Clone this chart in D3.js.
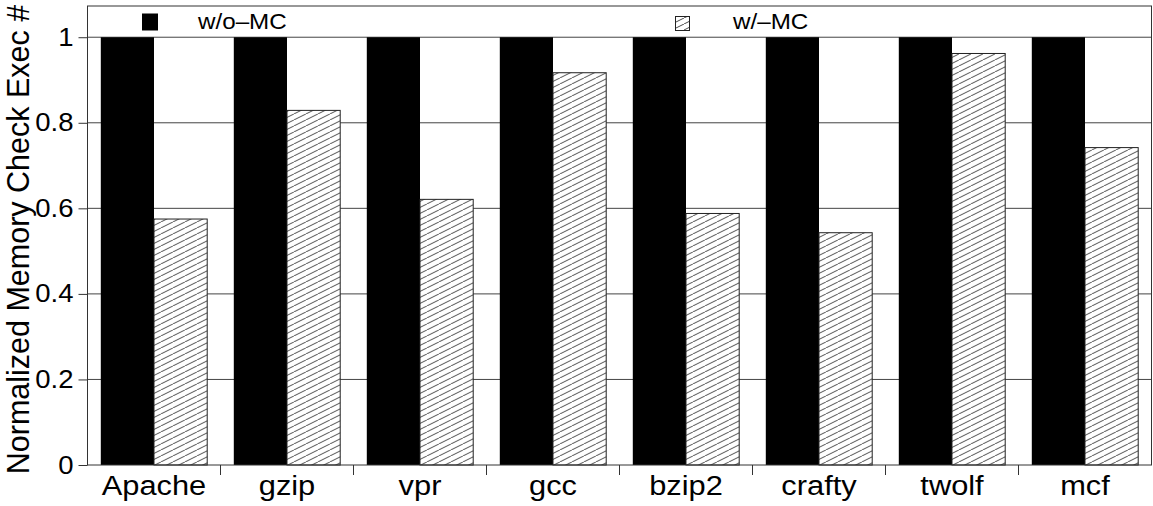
<!DOCTYPE html>
<html>
<head>
<meta charset="utf-8">
<script src="https://cdn.jsdelivr.net/npm/d3@7"></script>
<style>
  body { margin: 0; background: #fff; }
  text { font-family: "Liberation Sans", Arial, sans-serif; fill: #000; }
</style>
</head>
<body>
<div class="chart"></div>
<script>
// benchmarks on the x axis
var benchmarks = ["Apache", "gzip", "vpr", "gcc", "bzip2", "crafty", "twolf", "mcf"];
// series
var seriesNames = ["w/o\u2013MC", "w/\u2013MC"];
var withoutMC = [1, 1, 1, 1, 1, 1, 1, 1];
var withMC = [0.575, 0.829, 0.621, 0.917, 0.588, 0.543, 0.962, 0.742];
var yTicks = [0, 0.2, 0.4, 0.6, 0.8, 1];

var svgWidth = 1153, svgHeight = 506;
var margin = { top: 6, right: 1.5, bottom: 41, left: 87.5 };
var chartWidth = svgWidth - margin.left - margin.right;
var chartHeight = svgHeight - margin.top - margin.bottom;
var stretch = 1.1; // text in the original is a little wide

var svg = d3.select(".chart").append("svg")
  .attr("width", svgWidth)
  .attr("height", svgHeight);

// hatch for the w/-MC bars
var defs = svg.append("defs");
var pat = defs.append("pattern")
  .attr("id", "hatch")
  .attr("patternUnits", "userSpaceOnUse")
  .attr("width", 12)
  .attr("height", 6);
pat.append("rect").attr("width", 12).attr("height", 6).attr("fill", "#fff");
pat.append("line")
  .attr("x1", -1).attr("y1", 6.5).attr("x2", 13).attr("y2", -0.5)
  .attr("stroke", "#333").attr("stroke-width", 0.9);

var chartGroup = svg.append("g")
  .attr("transform", `translate(${margin.left}, ${margin.top})`);

var x0 = d3.scaleBand()
  .domain(benchmarks)
  .range([0, chartWidth])
  .paddingInner(0.2)
  .paddingOuter(0.1);

var x1 = d3.scaleBand()
  .domain([0, 1])
  .range([0, x0.bandwidth()]);

var yScale = d3.scaleLinear()
  .domain([0, 1.073])
  .range([chartHeight, 0]);

// grid lines
chartGroup.append("g")
  .selectAll("line")
  .data(yTicks.slice(1))
  .enter()
  .append("line")
  .attr("x1", 0).attr("x2", chartWidth)
  .attr("y1", d => yScale(d)).attr("y2", d => yScale(d))
  .attr("stroke", "#444").attr("stroke-width", 1);

// bars
var groups = chartGroup.selectAll(".grp")
  .data(benchmarks)
  .enter()
  .append("g")
  .attr("transform", d => `translate(${x0(d)},0)`);

groups.append("rect")
  .attr("x", x1(0))
  .attr("width", x1.bandwidth())
  .attr("y", (d, i) => yScale(withoutMC[i]))
  .attr("height", (d, i) => chartHeight - yScale(withoutMC[i]))
  .attr("fill", "#000");

groups.append("rect")
  .attr("x", x1(1))
  .attr("width", x1.bandwidth())
  .attr("y", (d, i) => yScale(withMC[i]))
  .attr("height", (d, i) => chartHeight - yScale(withMC[i]))
  .attr("fill", "url(#hatch)")
  .attr("stroke", "#222").attr("stroke-width", 1);

// y axis
var yAxis = d3.axisLeft(yScale).tickValues(yTicks).tickSize(9).tickPadding(5)
  .tickFormat(d3.format("~g"));
var yG = chartGroup.append("g").call(yAxis);
yG.select(".domain").remove();
yG.selectAll("line").attr("stroke", "#333");
yG.selectAll("text")
  .attr("font-size", 25)
  .attr("font-family", "Liberation Sans, Arial, sans-serif")
  .attr("x", -14 / stretch)
  .attr("transform", `scale(${stretch},1)`);

// x axis labels
var xAxis = d3.axisBottom(x0).tickSize(0);
var xG = chartGroup.append("g")
  .attr("transform", `translate(0, ${chartHeight})`)
  .call(xAxis);
xG.select(".domain").remove();
xG.selectAll(".tick").each(function () {
  var t = d3.select(this);
  var tr = t.attr("transform");
  var px = +tr.match(/translate\(([-\d.]+)/)[1];
  t.attr("transform", `translate(${px},0) scale(${stretch},1)`);
});
xG.selectAll("text")
  .attr("font-size", 28)
  .attr("font-family", "Liberation Sans, Arial, sans-serif")
  .attr("y", 30)
  .attr("dy", 0);

// boundary ticks between groups
var bounds = benchmarks.slice(1).map(d => x0(d) - x0.step() * x0.paddingInner() / 2);
chartGroup.append("g")
  .selectAll("line")
  .data(bounds)
  .enter()
  .append("line")
  .attr("x1", d => d).attr("x2", d => d)
  .attr("y1", chartHeight).attr("y2", chartHeight + 10)
  .attr("stroke", "#333");

// frame
chartGroup.append("rect")
  .attr("width", chartWidth).attr("height", chartHeight)
  .attr("fill", "none").attr("stroke", "#333").attr("stroke-width", 1);

// legend
var legend = svg.append("g");
legend.append("rect")
  .attr("x", 142).attr("y", 13.5).attr("width", 16).attr("height", 17)
  .attr("fill", "#000");
legend.append("text")
  .attr("transform", `translate(198,29) scale(${stretch},1)`)
  .attr("font-size", 22)
  .text(seriesNames[0]);
legend.append("rect")
  .attr("x", 675.5).attr("y", 16.5).attr("width", 14).attr("height", 14)
  .attr("fill", "url(#hatch)").attr("stroke", "#222");
legend.append("text")
  .attr("transform", `translate(733,29) scale(${stretch},1)`)
  .attr("font-size", 22)
  .text(seriesNames[1]);

// y axis title
svg.append("text")
  .attr("transform", `translate(29, ${margin.top + chartHeight / 2 + 4}) rotate(-90)`)
  .attr("text-anchor", "middle")
  .attr("font-size", 30.5)
  .text("Normalized Memory Check Exec #");
</script>
</body>
</html>
